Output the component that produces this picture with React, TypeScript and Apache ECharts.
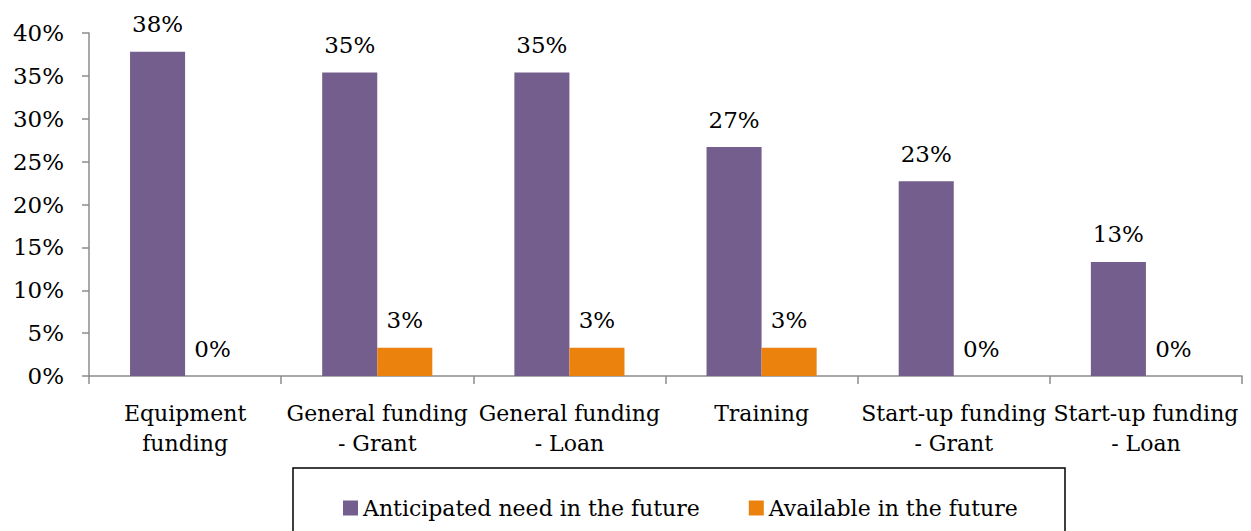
import React, { useEffect, useRef } from "react";
import * as echarts from "echarts";

const categories = [
  "Equipment\nfunding",
  "General funding\n- Grant",
  "General funding\n- Loan",
  "Training",
  "Start-up funding\n- Grant",
  "Start-up funding\n- Loan",
];
const anticipated = [37.8, 35.4, 35.4, 26.7, 22.7, 13.3];
const available = [0, 3.3, 3.3, 3.3, 0, 0];
const seriesNames = ["Anticipated need in the future", "Available in the future"];
const colors = ["#745E8D", "#EA820D"];

const SERIF = "'DejaVu Serif', 'Liberation Serif', serif";

export default function App() {
  const ref = useRef<HTMLDivElement>(null);
  useEffect(() => {
    if (!ref.current) return;
    const chart = echarts.init(ref.current, null, { renderer: "svg" });
    const label = {
      show: true,
      position: "top",
      distance: 16,
      color: "#000",
      fontFamily: SERIF,
      fontSize: 23,
      formatter: (p: any) => Math.round(p.value) + "%",
    };
    chart.setOption({
      animation: false,
      backgroundColor: "#fff",
      grid: { left: 89, right: 9, top: 33, bottom: 155, containLabel: false },
      legend: {
        left: 338,
        top: 492,
        itemWidth: 15,
        itemHeight: 15,
        itemGap: 49,
        icon: "rect",
        textStyle: { fontFamily: SERIF, fontSize: 22, color: "#000" },
        data: seriesNames,
      },
      graphic: [
        {
          type: "rect",
          shape: { x: 293, y: 468, width: 772, height: 90 },
          style: { fill: "none", stroke: "#000", lineWidth: 1.5 },
          z: 10,
        },
      ],
      xAxis: {
        type: "category",
        data: categories,
        axisLine: { lineStyle: { color: "#8c8c8c", width: 1.5 } },
        axisTick: { show: true, length: 8, lineStyle: { color: "#8c8c8c", width: 1.5 } },
        axisLabel: {
          interval: 0,
          color: "#000",
          fontFamily: SERIF,
          fontSize: 22,
          lineHeight: 30,
          margin: 22,
        },
      },
      yAxis: {
        type: "value",
        min: 0,
        max: 40,
        interval: 5,
        axisLine: { show: true, lineStyle: { color: "#8c8c8c", width: 1.5 } },
        axisTick: { show: true, length: 7, lineStyle: { color: "#8c8c8c", width: 1.5 } },
        splitLine: { show: false },
        axisLabel: {
          color: "#000",
          fontFamily: SERIF,
          fontSize: 23,
          margin: 25,
          formatter: (v: number) => v + "%",
        },
      },
      series: [
        {
          name: seriesNames[0],
          type: "bar",
          data: anticipated,
          itemStyle: { color: colors[0] },
          barGap: "0%",
          barCategoryGap: "42.7%",
          label,
        },
        {
          name: seriesNames[1],
          type: "bar",
          data: available,
          itemStyle: { color: colors[1] },
          label,
        },
      ],
    });
    return () => chart.dispose();
  }, []);
  return (
    <div
      ref={ref}
      style={{ position: "fixed", left: 0, top: 0, width: 1251, height: 531 }}
    />
  );
}
